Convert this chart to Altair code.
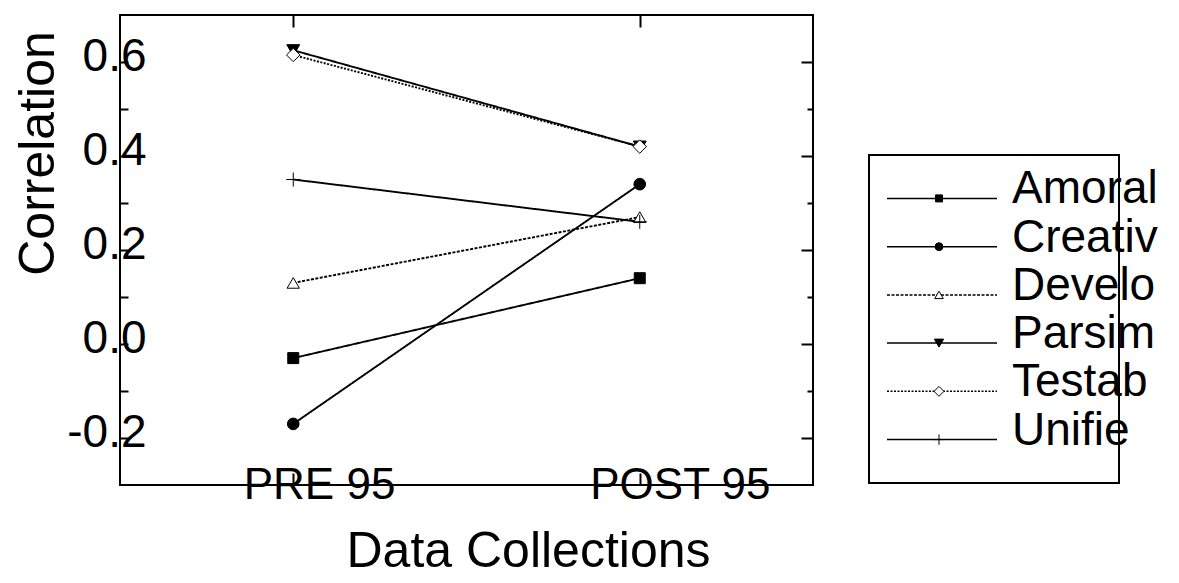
import altair as alt
import pandas as pd

# ---- data ----
series = ["Amoral", "Creativ", "Develo", "Parsim", "Testab", "Unifie"]
collections = ["PRE 95", "POST 95"]
pre_values = [-0.03, -0.17, 0.13, 0.625, 0.615, 0.35]
post_values = [0.14, 0.34, 0.27, 0.42, 0.42, 0.26]
tick_values = [-0.2, -0.1, 0.0, 0.1, 0.2, 0.3, 0.4, 0.5, 0.6]

rows = []
for s, a, b in zip(series, pre_values, post_values):
    rows.append({"series": s, "collection": collections[0], "value": a})
    rows.append({"series": s, "collection": collections[1], "value": b})
df = pd.DataFrame(rows)
leg_df = pd.DataFrame({"series": series})

# ---- styles ----
FONT = "Liberation Sans"
shape_range = ["square", "circle", "triangle-up", "triangle-down", "diamond", "M-1,0H1M0,-1V1"]
fill_range = ["black", "black", "white", "black", "white", "black"]
dash_range = [[1, 0], [1, 0], [3, 1.5], [1, 0], [2, 1.5], [1, 0]]
sw_range = [1, 1, 2.5, 1, 2.5, 1.5]
size_plot = [121, 196, 130, 160, 120, 144]
size_leg = [49, 110, 70, 90, 56, 70]

major_test = "abs(round(datum.value*10)) % 2 == 0"
label_expr = ("(" + major_test + ") ? (datum.value < 0 ? '-' + format(abs(datum.value), '.1f')"
              " : format(datum.value, '.1f')) : ''")

xscale = alt.Scale(domain=collections, padding=0.5)
yscale = alt.Scale(domain=[-0.3, 0.7], nice=False, zero=False)

dash_enc = alt.StrokeDash("series:N", scale=alt.Scale(domain=series, range=dash_range), legend=None)

lines = alt.Chart(df).mark_line(color="black", strokeWidth=1.9).encode(
    x=alt.X("collection:N", scale=xscale, sort=collections,
            axis=alt.Axis(orient="bottom", title="Data Collections", labelAngle=0,
                          labelAlign="left", labelOffset=-50, labelPadding=-10,
                          labelLimit=500, grid=False,
                          labelFontSize=44, tickSize={"expr": "-12"}, tickWidth=2,
                          tickColor="black", domain=False, titleFontSize=50,
                          titleFontWeight="normal", titleX=408, titleY=81,
                          titleBaseline="alphabetic", titleAlign="center")),
    y=alt.Y("value:Q", scale=yscale,
            axis=alt.Axis(orient="left", title="Correlation", values=tick_values,
                          labelExpr=label_expr, grid=False,
                          tickSize={"expr": "-8"}, tickWidth=2, tickColor="black",
                          labelPadding=-18, labelFontSize=46, labelOffset=-6,
                          labelBaseline="middle", labelAlign="right",
                          domain=False, titleFontSize=50, titleFontWeight="normal",
                          titleX=-82, titleY=138, titleAngle=270,
                          titleAlign="center", titleBaseline="middle")),
    strokeDash=dash_enc,
    detail="series:N",
)

points = alt.Chart(df).mark_point(filled=True, stroke="black", opacity=1).encode(
    x=alt.X("collection:N", scale=xscale, sort=collections,
            axis=alt.Axis(orient="top", labels=False, domain=False, title=None, grid=False,
                          tickSize={"expr": "-12"}, tickWidth=2, tickColor="black")),
    y=alt.Y("value:Q", scale=yscale,
            axis=alt.Axis(orient="right", labels=False, domain=False, title=None,
                          values=tick_values, grid=False,
                          tickSize={"condition": {"test": major_test, "expr": "-12"}, "expr": "-6"},
                          tickWidth=2, tickColor="black")),
    shape=alt.Shape("series:N", scale=alt.Scale(domain=series, range=shape_range), legend=None),
    fill=alt.Fill("series:N", scale=alt.Scale(domain=series, range=fill_range), legend=None),
    size=alt.Size("series:N", scale=alt.Scale(domain=series, range=size_plot), legend=None),
    strokeWidth=alt.StrokeWidth("series:N", scale=alt.Scale(domain=series, range=sw_range), legend=None),
)

main = alt.layer(lines, points).resolve_scale(x="independent", y="independent").properties(
    width=693, height=470, view=alt.ViewBackground(stroke="black", strokeWidth=2)
)

# ---- hand-built legend panel ----
leg_y = alt.Y("series:N", scale=alt.Scale(domain=series, padding=0.8), axis=None, sort=series)

leg_rules = alt.Chart(leg_df).mark_rule(color="black", strokeWidth=1.5).encode(
    x=alt.value(18), x2=alt.value(128), y=leg_y,
    strokeDash=alt.StrokeDash("series:N", scale=alt.Scale(domain=series, range=dash_range), legend=None),
)
leg_points = alt.Chart(leg_df).mark_point(filled=True, stroke="black", opacity=1).encode(
    x=alt.value(70), y=leg_y,
    shape=alt.Shape("series:N", scale=alt.Scale(domain=series, range=shape_range), legend=None),
    fill=alt.Fill("series:N", scale=alt.Scale(domain=series, range=fill_range), legend=None),
    size=alt.Size("series:N", scale=alt.Scale(domain=series, range=size_leg), legend=None),
    strokeWidth=alt.StrokeWidth("series:N", scale=alt.Scale(domain=series, range=sw_range), legend=None),
)
leg_text = alt.Chart(leg_df).mark_text(align="left", baseline="alphabetic", dy=5,
                                       fontSize=46, font=FONT, color="black").encode(
    x=alt.value(143), y=leg_y, text="series:N",
)
legend = alt.layer(leg_rules, leg_points, leg_text).properties(
    width=250, height=328, view=alt.ViewBackground(stroke="black", strokeWidth=2)
)

spacer = alt.Chart(leg_df).mark_point(opacity=0).encode(
    x=alt.value(0), y=alt.value(0)
).properties(width=250, height=139, view=alt.ViewBackground(strokeOpacity=0))

leg_col = alt.vconcat(spacer, legend, spacing=0)

chart = alt.hconcat(main, leg_col, spacing=51).resolve_scale(
    x="independent", y="independent", shape="independent", fill="independent",
    size="independent", strokeDash="independent", strokeWidth="independent"
).properties(
    padding={"left": 3, "top": 4, "right": 5, "bottom": 5}
).configure_view(
    stroke="black", strokeWidth=2
).configure_axis(
    grid=False, labelColor="black", titleColor="black", labelFont=FONT, titleFont=FONT
).configure(background="white")

chart.save("out.html", embed_options={"renderer": "svg", "actions": False})
